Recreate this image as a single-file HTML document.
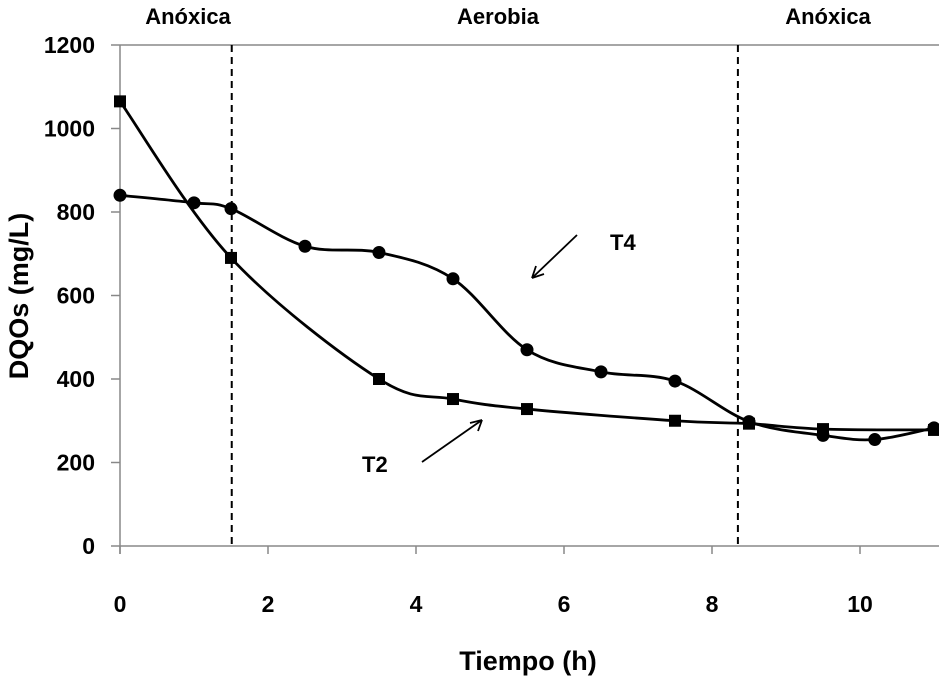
<!DOCTYPE html>
<html><head><meta charset="utf-8"><style>
body{margin:0;background:#fff}
text{font-family:"Liberation Sans",sans-serif;font-weight:bold;fill:#000}
</style></head><body>
<svg width="939" height="678">
<g id="axes"></g>
<g id="marks"></g>
<text x="188" y="24" font-size="22" text-anchor="middle">Anóxica</text>
<text x="498" y="24" font-size="22" text-anchor="middle">Aerobia</text>
<text x="828" y="24" font-size="22" text-anchor="middle">Anóxica</text>
<text x="610" y="250" font-size="22">T4</text>
<text x="362" y="472" font-size="22">T2</text>
<line x1="577" y1="235" x2="532" y2="278" stroke="#000" stroke-width="1.8"/>
<path d="M532 278 l4 -12 M532 278 l12 -4" stroke="#000" stroke-width="1.8" fill="none"/>
<line x1="422" y1="462" x2="482" y2="420" stroke="#000" stroke-width="1.8"/>
<path d="M482 420 l-12 3 M482 420 l-4 11" stroke="#000" stroke-width="1.8" fill="none"/>
<text x="528" y="670" font-size="27" text-anchor="middle">Tiempo (h)</text>
<text transform="translate(28,296) rotate(-90)" font-size="27" text-anchor="middle">DQOs (mg/L)</text>
</svg>
<script>
const xTicks=[0,2,4,6,8,10];
const yTicks=[0,200,400,600,800,1000,1200];
const phaseBounds=[1.51,8.35];
const t2X=[0,1.5,3.5,4.5,5.5,7.5,8.5,9.5,11];
const t2Y=[1065,690,400,352,328,300,293,280,278];
const t4X=[0,1,1.5,2.5,3.5,4.5,5.5,6.5,7.5,8.5,9.5,10.2,11];
const t4Y=[840,822,808,718,703,640,470,417,395,298,265,255,283];
const sx=v=>120+v*74, sy=v=>546-v*0.4175;
const NS="http://www.w3.org/2000/svg";
function mk(t,a,p){const e=document.createElementNS(NS,t);for(const k in a)e.setAttribute(k,a[k]);p.appendChild(e);return e;}
const ax=document.getElementById('axes'), mg=document.getElementById('marks');
let e=mk('line',{x1:120,y1:sy(1200),x2:939,y2:sy(1200),stroke:'#888','stroke-width':1.5},ax);

e=mk('line',{x1:120,y1:sy(1200),x2:120,y2:sy(0)+8,stroke:'#888','stroke-width':1.5},ax);

e=mk('line',{x1:120,y1:sy(0),x2:939,y2:sy(0),stroke:'#888','stroke-width':1.5},ax);

yTicks.forEach(v=>{mk('line',{x1:111,y1:sy(v),x2:120,y2:sy(v),stroke:'#888','stroke-width':1.5},ax);
 const t=mk('text',{x:95,y:sy(v)+8,'font-size':23,'text-anchor':'end'},ax);t.textContent=v;
 });
xTicks.forEach(v=>{mk('line',{x1:sx(v),y1:sy(0),x2:sx(v),y2:sy(0)+8,stroke:'#888','stroke-width':1.5},ax);
 const t=mk('text',{x:sx(v),y:612,'font-size':23,'text-anchor':'middle'},ax);t.textContent=v;
 });
phaseBounds.forEach(v=>{const l=mk('line',{x1:sx(v),y1:sy(1200),x2:sx(v),y2:sy(0),stroke:'#000','stroke-width':2,'stroke-dasharray':'7,5'},ax);
 });
function curve(X,Y){const P=X.map((x,i)=>[sx(x),sy(Y[i])]);let d=`M${P[0][0]},${P[0][1]}`;
 for(let i=0;i<P.length-1;i++){const p0=P[i-1]||P[i],p1=P[i],p2=P[i+1],p3=P[i+2]||P[i+1];const k=0.5/3;
 d+=` C${p1[0]+(p2[0]-p0[0])*k},${p1[1]+(p2[1]-p0[1])*k} ${p2[0]-(p3[0]-p1[0])*k},${p2[1]-(p3[1]-p1[1])*k} ${p2[0]},${p2[1]}`;}return d;}
e=mk('path',{d:curve(t2X,t2Y),fill:'none',stroke:'#000','stroke-width':2.8},mg);

e=mk('path',{d:curve(t4X,t4Y),fill:'none',stroke:'#000','stroke-width':2.8},mg);

t2X.forEach((x,i)=>{const r=mk('rect',{x:sx(x)-6,y:sy(t2Y[i])-6,width:12,height:12,fill:'#000'},mg);
 });
t4X.forEach((x,i)=>{const c=mk('circle',{cx:sx(x),cy:sy(t4Y[i]),r:6.5,fill:'#000'},mg);
 });
</script>
</body></html>
